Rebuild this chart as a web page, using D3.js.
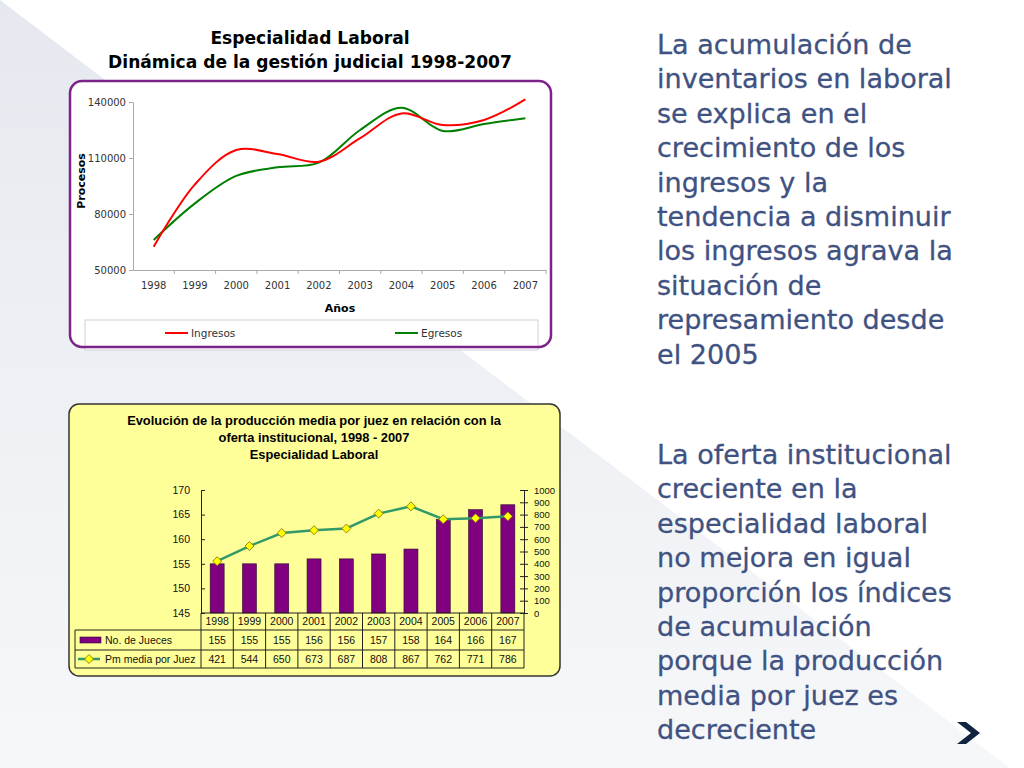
<!DOCTYPE html>
<html>
<head>
<meta charset="utf-8">
<script src="https://cdn.jsdelivr.net/npm/d3@7"></script>
<style>
  body { margin: 0; background: #fff; }
  svg { display: block; }
</style>
</head>
<body>
<script>
// years shared by both charts
var years = ["1998","1999","2000","2001","2002","2003","2004","2005","2006","2007"];

// top chart: ingresos / egresos (procesos)
var ingresos = [62500, 95900, 114300, 112100, 108000, 120600, 133900, 127700, 130400, 141400];
var egresos  = [66100, 85700, 100400, 105000, 107500, 125000, 136900, 124500, 128200, 131300];
var procTicks = [50000, 80000, 110000, 140000];

// bottom chart: jueces and produccion media
var jueces = [155, 155, 155, 156, 156, 157, 158, 164, 166, 167];
var pmJuez = [421, 544, 650, 673, 687, 808, 867, 762, 771, 786];
var juecesTicks = [145, 150, 155, 160, 165, 170];
var pmTicks = [0,100,200,300,400,500,600,700,800,900,1000];

var texto1 = ["La acumulación de", "inventarios en laboral", "se explica en el",
  "crecimiento de los", "ingresos y la", "tendencia a disminuir",
  "los ingresos agrava la", "situación de", "represamiento desde", "el 2005"];
var texto2 = ["La oferta institucional", "creciente en la", "especialidad laboral",
  "no mejora en igual", "proporción los índices", "de acumulación",
  "porque la producción", "media por juez es", "decreciente"];

var svg = d3.select("body").append("svg")
    .attr("width", 1024)
    .attr("height", 768);

var defs = svg.append("defs");
var grad = defs.append("linearGradient")
    .attr("id", "bg").attr("x1", 0).attr("y1", 0).attr("x2", 0).attr("y2", 1);
grad.append("stop").attr("offset", "0%").attr("stop-color", "#e5e9ef");
grad.append("stop").attr("offset", "100%").attr("stop-color", "#f6f7f9");

// background: white with a grey triangle lower-left
svg.append("rect").attr("width", 1024).attr("height", 768).attr("fill", "#fff");
svg.append("polygon").attr("points", "0,0 1010,768 0,768").attr("fill", "url(#bg)");

// fit helper: shrink/grow font so the widest line hits a target width
function fitSize(lines, family, weight, target) {
  var t = svg.append("text").style("font-family", family)
      .style("font-weight", weight).style("font-size", "20px");
  var w = 0;
  lines.forEach(function(l) { t.text(l); w = Math.max(w, t.node().getComputedTextLength()); });
  t.remove();
  return 20 * target / w;
}

// ---------------- top chart ----------------
var gothic = "'DejaVu Sans', sans-serif";
var titleSize = fitSize(["Dinámica de la gestión judicial 1998-2007"], gothic, "bold", 404);
svg.append("text").attr("x", 310).attr("y", 44)
    .style("font-family", gothic).style("font-weight", "bold").style("font-size", titleSize + "px")
    .style("text-anchor", "middle").text("Especialidad Laboral");
svg.append("text").attr("x", 310).attr("y", 68)
    .style("font-family", gothic).style("font-weight", "bold").style("font-size", titleSize + "px")
    .style("text-anchor", "middle").text("Dinámica de la gestión judicial 1998-2007");

svg.append("rect").attr("x", 70).attr("y", 81).attr("width", 481).attr("height", 266)
    .attr("rx", 12).attr("fill", "#fff");

var x = d3.scaleBand().domain(years).range([133, 546]);
var y = d3.scaleLinear().domain([50000, 140000]).range([270, 102]);

var yAxis = svg.append("g")
    .attr("transform", "translate(133,0)")
    .call(d3.axisLeft(y).tickValues(procTicks).tickSize(4).tickFormat(d3.format("d")));
yAxis.select(".domain").attr("stroke", "#aaa");
yAxis.selectAll(".tick line").attr("stroke", "#aaa");
yAxis.selectAll("text").style("font-family", gothic).style("font-size", "10px").attr("fill", "#333");

var xAxis = svg.append("g")
    .attr("transform", "translate(0,270)")
    .call(d3.axisBottom(x).tickSize(0).tickPadding(12));
xAxis.select(".domain").attr("stroke", "#aaa");
xAxis.selectAll("text").style("font-family", gothic).style("font-size", "10px").attr("fill", "#333");
svg.append("g").selectAll("line")
    .data(years.slice(1).concat(["end"]))
    .join("line")
    .attr("x1", function(d) { return d == "end" ? 546 : x(d); })
    .attr("x2", function(d) { return d == "end" ? 546 : x(d); })
    .attr("y1", 270).attr("y2", 274)
    .attr("stroke", "#aaa");

svg.append("text").attr("x", 340).attr("y", 312)
    .style("font-family", gothic).style("font-weight", "bold").style("font-size", "11px")
    .style("text-anchor", "middle").text("Años");
svg.append("text").attr("transform", "translate(85,181) rotate(-90)")
    .style("font-family", gothic).style("font-weight", "bold").style("font-size", "11px")
    .style("text-anchor", "middle").text("Procesos");

var line = d3.line()
    .x(function(d, i) { return x(years[i]) + x.bandwidth() / 2; })
    .y(function(d) { return y(d); })
    .curve(d3.curveCatmullRom);

svg.append("path").attr("d", line(egresos))
    .attr("fill", "none").attr("stroke", "#008000").attr("stroke-width", 2);
svg.append("path").attr("d", line(ingresos))
    .attr("fill", "none").attr("stroke", "#ff0000").attr("stroke-width", 2);

// legend
svg.append("rect").attr("x", 85).attr("y", 320).attr("width", 453).attr("height", 30)
    .attr("fill", "#fff").attr("stroke", "#d4cdd8");
var legend = [{name: "Ingresos", color: "#ff0000", x: 165}, {name: "Egresos", color: "#008000", x: 395}];
legend.forEach(function(l) {
  svg.append("line").attr("x1", l.x).attr("x2", l.x + 23).attr("y1", 333).attr("y2", 333)
      .attr("stroke", l.color).attr("stroke-width", 2);
  svg.append("text").attr("x", l.x + 26).attr("y", 337)
      .style("font-family", gothic).style("font-size", "10.5px").attr("fill", "#333").text(l.name);
});

svg.append("rect").attr("x", 70).attr("y", 81).attr("width", 481).attr("height", 266)
    .attr("rx", 12).attr("fill", "none").attr("stroke", "#7b2388").attr("stroke-width", 2.5);

// ---------------- bottom chart ----------------
var arial = "'Liberation Sans', Arial, sans-serif";
svg.append("rect").attr("x", 69).attr("y", 404).attr("width", 491).attr("height", 272)
    .attr("rx", 10).attr("fill", "#ffff99").attr("stroke", "#333").attr("stroke-width", 1.5);

var bt = ["Evolución de la producción media por juez en relación con la",
          "oferta institucional, 1998 - 2007", "Especialidad Laboral"];
var btSize = fitSize([bt[0]], arial, "bold", 374);
bt.forEach(function(t, i) {
  svg.append("text").attr("x", 314).attr("y", 425 + i * 17)
      .style("font-family", arial).style("font-weight", "bold").style("font-size", btSize + "px")
      .style("text-anchor", "middle").text(t);
});

var xb = d3.scaleBand().domain(years).range([201, 524]);
var yl = d3.scaleLinear().domain([145, 170]).range([613, 490]);
var yr = d3.scaleLinear().domain([0, 1000]).range([613, 490]);

svg.append("g").selectAll("rect")
    .data(jueces)
    .join("rect")
    .attr("x", function(d, i) { return xb(years[i]) + xb.bandwidth() / 2 - 7; })
    .attr("width", 14)
    .attr("y", function(d) { return yl(d); })
    .attr("height", function(d) { return 613 - yl(d); })
    .attr("fill", "#800080").attr("stroke", "#2a0a2a").attr("stroke-width", 0.6);

var lAxis = svg.append("g").attr("transform", "translate(201,0)")
    .call(d3.axisLeft(yl).tickValues(juecesTicks).tickSizeInner(4).tickSizeOuter(0).tickPadding(7));
lAxis.selectAll(".tick line").attr("x2", 4);
var rAxis = svg.append("g").attr("transform", "translate(524,0)")
    .call(d3.axisRight(yr).tickValues(pmTicks).tickSizeInner(4).tickSizeOuter(0).tickPadding(6)
      .tickFormat(d3.format("d")));
rAxis.selectAll(".tick line").attr("x1", -4);
[lAxis, rAxis].forEach(function(a) {
  a.select(".domain").attr("stroke", "#222");
  a.selectAll(".tick line").attr("stroke", "#222");
  a.selectAll("text").style("font-family", arial).attr("fill", "#111");
});
lAxis.selectAll("text").style("font-size", "10.5px");
rAxis.selectAll("text").style("font-size", "9.5px");

var pmLine = d3.line()
    .x(function(d, i) { return xb(years[i]) + xb.bandwidth() / 2; })
    .y(function(d) { return yr(d); });
svg.append("path").attr("d", pmLine(pmJuez))
    .attr("fill", "none").attr("stroke", "#33996b").attr("stroke-width", 2.5);

var diamond = d3.symbol().type(d3.symbolSquare).size(40);
svg.append("g").selectAll("path")
    .data(pmJuez)
    .join("path")
    .attr("d", diamond)
    .attr("transform", function(d, i) {
      return "translate(" + (xb(years[i]) + xb.bandwidth() / 2) + "," + yr(d) + ") rotate(45)";
    })
    .attr("fill", "#ffff00").attr("stroke", "#8a6d00").attr("stroke-width", 0.8);

// data table
var tbl = svg.append("g");
tbl.append("line").attr("x1", 201).attr("x2", 524).attr("y1", 613).attr("y2", 613).attr("stroke", "#222");
[630, 650, 668].forEach(function(yy) {
  tbl.append("line").attr("x1", 75).attr("x2", 524).attr("y1", yy).attr("y2", yy).attr("stroke", "#222");
});
tbl.append("line").attr("x1", 75).attr("x2", 75).attr("y1", 630).attr("y2", 668).attr("stroke", "#222");
years.forEach(function(yr0) {
  tbl.append("line").attr("x1", xb(yr0)).attr("x2", xb(yr0)).attr("y1", 613).attr("y2", 668).attr("stroke", "#222");
});
tbl.append("line").attr("x1", 524).attr("x2", 524).attr("y1", 613).attr("y2", 668).attr("stroke", "#222");

function cellText(txt, cx, cy) {
  tbl.append("text").attr("x", cx).attr("y", cy)
      .style("font-family", arial).style("font-size", "10.5px").style("text-anchor", "middle")
      .attr("fill", "#111").text(txt);
}
years.forEach(function(yy, i) {
  var cx = xb(yy) + xb.bandwidth() / 2;
  cellText(yy, cx, 625);
  cellText(jueces[i], cx, 644);
  cellText(pmJuez[i], cx, 663);
});

tbl.append("rect").attr("x", 80).attr("y", 637).attr("width", 21).attr("height", 6)
    .attr("fill", "#800080").attr("stroke", "#2a0a2a").attr("stroke-width", 0.6);
tbl.append("text").attr("x", 105).attr("y", 644)
    .style("font-family", arial).style("font-size", "10.5px").attr("fill", "#111").text("No. de Jueces");
tbl.append("line").attr("x1", 78).attr("x2", 100).attr("y1", 659).attr("y2", 659)
    .attr("stroke", "#33996b").attr("stroke-width", 2.5);
tbl.append("path").attr("d", diamond).attr("transform", "translate(89,659) rotate(45)")
    .attr("fill", "#ffff00").attr("stroke", "#8a6d00").attr("stroke-width", 0.8);
tbl.append("text").attr("x", 105).attr("y", 663)
    .style("font-family", arial).style("font-size", "10.5px").attr("fill", "#111").text("Pm media por Juez");

// ---------------- right text ----------------
var paraSize = fitSize(["inventarios en laboral"], gothic, "normal", 295);
function para(lines, y0) {
  svg.append("g").selectAll("text")
      .data(lines)
      .join("text")
      .attr("x", 657)
      .attr("y", function(d, i) { return y0 + i * 34.4; })
      .style("font-family", gothic).style("font-size", paraSize + "px")
      .attr("fill", "#3f5281").attr("stroke", "#3f5281").attr("stroke-width", 0.3)
      .text(function(d) { return d; });
}
para(texto1, 54);
para(texto2, 464);

// chevron
svg.append("path")
    .attr("d", "M957,722 L966,722 L980,733 L966,744 L957,744 L971,733 Z")
    .attr("fill", "#10243f");
</script>
</body>
</html>
